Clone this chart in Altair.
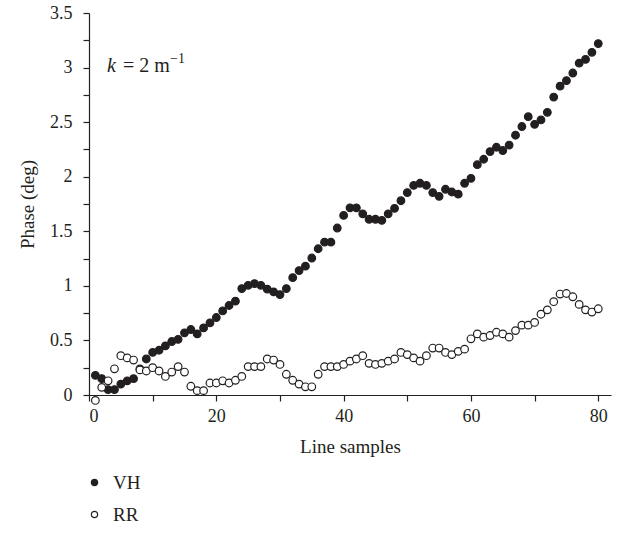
import altair as alt
import pandas as pd

samples = list(range(1, 81))

vh = [0.18, 0.15, 0.05, 0.05, 0.10, 0.13, 0.15, 0.24, 0.33, 0.39,
      0.41, 0.45, 0.49, 0.51, 0.57, 0.60, 0.56, 0.615, 0.66, 0.71,
      0.77, 0.82, 0.86, 0.975, 1.005, 1.02, 1.005, 0.97, 0.945, 0.92,
      0.975, 1.075, 1.14, 1.18, 1.255, 1.34, 1.40, 1.40, 1.53, 1.645,
      1.715, 1.715, 1.66, 1.61, 1.61, 1.60, 1.66, 1.71, 1.78, 1.855,
      1.92, 1.94, 1.92, 1.855, 1.82, 1.885, 1.86, 1.84, 1.94, 1.985,
      2.11, 2.16, 2.23, 2.27, 2.24, 2.29, 2.38, 2.46, 2.55, 2.48,
      2.52, 2.59, 2.73, 2.83, 2.88, 2.95, 3.04, 3.075, 3.14, 3.22]

rr = [-0.05, 0.07, 0.13, 0.24, 0.36, 0.34, 0.32, 0.23, 0.22, 0.25,
      0.22, 0.17, 0.21, 0.26, 0.21, 0.08, 0.04, 0.04, 0.11, 0.11,
      0.13, 0.11, 0.135, 0.17, 0.26, 0.26, 0.26, 0.33, 0.32, 0.28,
      0.19, 0.135, 0.10, 0.075, 0.075, 0.19, 0.26, 0.26, 0.26, 0.28,
      0.31, 0.33, 0.36, 0.29, 0.28, 0.29, 0.31, 0.33, 0.39, 0.37,
      0.34, 0.31, 0.36, 0.43, 0.43, 0.39, 0.37, 0.40, 0.42, 0.515,
      0.56, 0.53, 0.545, 0.575, 0.56, 0.53, 0.59, 0.64, 0.64, 0.665,
      0.74, 0.78, 0.855, 0.925, 0.93, 0.90, 0.83, 0.78, 0.76, 0.79]

series_names = ["VH", "RR"]
x_ticks = list(range(0, 81, 10))
y_ticks = [i * 0.25 for i in range(15)]
annot_k = "k"
annot_rest = "= 2 m"
annot_sup = "\u22121"

INK = "#231f20"
FONT = "Liberation Serif"

df = pd.DataFrame({
    "sample": samples + samples,
    "phase": vh + rr,
    "series": [series_names[0]] * len(vh) + [series_names[1]] * len(rr),
})

points = alt.Chart(df).mark_point(
    shape="circle", size=58, stroke=INK, strokeWidth=1.2, opacity=1
).encode(
    x=alt.X("sample:Q",
            scale=alt.Scale(domain=[0, 82], nice=False, zero=False),
            axis=alt.Axis(values=x_ticks,
                          labelExpr="datum.value % 20 === 0 ? datum.label : ''",
                          title="Line samples", tickSize=6, labelPadding=6,
                          titlePadding=12, grid=False)),
    y=alt.Y("phase:Q",
            scale=alt.Scale(domain=[0, 3.5], nice=False, zero=False),
            axis=alt.Axis(values=y_ticks, format="~g",
                          labelExpr="datum.value % 0.5 === 0 ? datum.label : ''",
                          title="Phase (deg)", tickSize=6, labelPadding=11,
                          titlePadding=12, grid=False)),
    fill=alt.Fill("series:N",
                  scale=alt.Scale(domain=series_names, range=[INK, "white"]),
                  legend=alt.Legend(title=None, orient="none", legendX=-4,
                                    legendY=460, direction="vertical",
                                    symbolType="circle", symbolSize=40,
                                    symbolStrokeColor=INK, symbolStrokeWidth=1.2,
                                    labelOffset=9, rowPadding=12,
                                    labelFont=FONT, labelFontSize=19,
                                    labelColor=INK, padding=0)),
    order=alt.Order("series:N", sort="descending"),
)

txt_df = pd.DataFrame({"a": [0]})
t1 = alt.Chart(txt_df).mark_text(
    text=annot_k, font=FONT, fontSize=20, fontStyle="italic", color=INK,
    align="left", baseline="alphabetic"
).encode(x=alt.value(18), y=alt.value(59))
t2 = alt.Chart(txt_df).mark_text(
    text=annot_rest, font=FONT, fontSize=20, color=INK,
    align="left", baseline="alphabetic"
).encode(x=alt.value(34), y=alt.value(59))
t3 = alt.Chart(txt_df).mark_text(
    text=annot_sup, font=FONT, fontSize=14, color=INK,
    align="left", baseline="alphabetic"
).encode(x=alt.value(81), y=alt.value(50))

chart = alt.layer(points, t1, t2, t3).properties(
    width=522, height=382,
    autosize=alt.AutoSizeParams(type="none"),
    padding={"left": 89, "top": 13, "right": 10, "bottom": 140},
).configure_view(stroke="transparent").configure_axis(
    labelFont=FONT, titleFont=FONT, labelFontSize=18, titleFontSize=19,
    titleFontWeight="normal", labelColor=INK, titleColor=INK,
    domainColor=INK, tickColor=INK, domainWidth=1.2, tickWidth=1.2,
).configure_legend(labelFont=FONT)

chart.save("out.html", embed_options={"renderer": "svg", "actions": False})
